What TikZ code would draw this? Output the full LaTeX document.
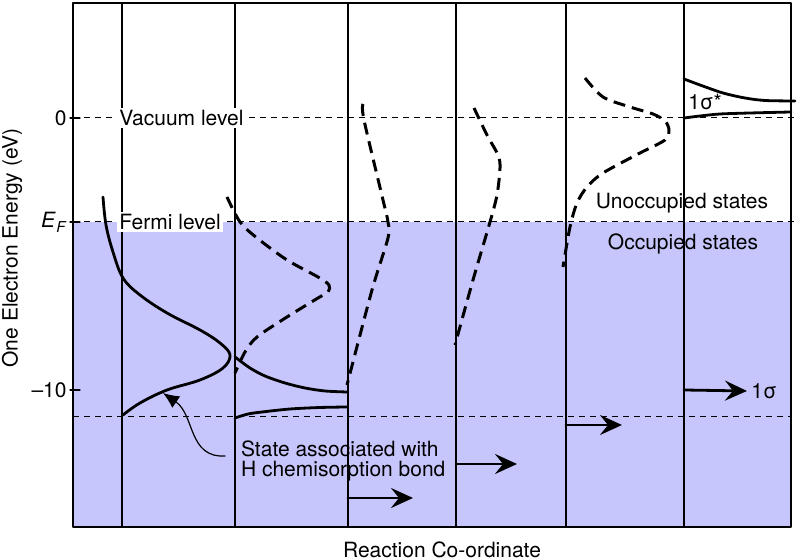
\documentclass[tikz,border=0pt]{standalone}
\usepackage{fontspec}
\setmainfont{TeX Gyre Heros}
\usetikzlibrary{arrows.meta}
\definecolor{occupied}{RGB}{198,198,252}

\begin{document}
\begin{tikzpicture}[x=0.5pt,y=-0.5pt, font=\fontsize{10.5}{10}\selectfont, line join=round, line cap=round,
	levelline/.style={line width=0.5pt, line cap=butt, dash pattern=on 2.8pt off 2.7pt},
	levellabel/.style={fill=white, inner sep=1pt, anchor=west},
	dos/.style={line width=1.4pt},
	dosdash/.style={line width=1.5pt, line cap=butt, dash pattern=on 6pt off 3.5pt},
	shiftarrow/.style={-{Stealth[length=11pt,width=10pt,inset=4pt]}, line width=1.4pt}]
	\def\xl{73} \def\xr{791} \def\yt{3} \def\yb{527}
	\def\yvac{118} \def\yfermi{222} \def\ylow{417} \def\yten{390}
	\useasboundingbox (0,0) rectangle (800,560);
	% occupied states below the Fermi level
	\fill[occupied] (\xl,\yfermi) rectangle (\xr,\yb);
	\foreach \x in {122,235,348,456,566,684}
	{\draw[line width=0.7pt] (\x,\yt)--(\x,\yb);}
	\draw[line width=0.7pt] (\xl,\yt) rectangle (\xr,\yb);
	\draw[levelline] (\xl,\yvac)--(795,\yvac) (\xl,\yfermi)--(795,\yfermi) (\xl,\ylow)--(\xr,\ylow);
	\foreach \y in {\yvac,\yfermi,\yten}
	{\draw[line width=0.6pt] (70,\y)--(80,\y);}
	% axis labels
	\node[anchor=east, inner sep=1pt] (zero) at (69,\yvac) {0};
	\node[anchor=east, inner sep=1pt] (ef) at (69,\yfermi) {\textit{E}\kern.3pt\raisebox{-.45ex}{\fontsize{7.5}{8}\selectfont\textit{F}}};
	\node[anchor=east, inner sep=1pt] (mten) at (69,\yten) {--10};
	\node[rotate=90] (ytitle) at (12,248) {One Electron Energy (eV)};
	\node (xtitle) at (442,550) {Reaction Co-ordinate};
	\node[levellabel] (vac) at (117,\yvac) {Vacuum level};
	\node[levellabel] (fermi) at (117,\yfermi) {Fermi level};
	\node (unocc) at (682,203) {Unoccupied states};
	\node (occ) at (683,244) {Occupied states};
	\node (sigstar) at (705,102) {1σ*};
	\node[anchor=west, inner sep=2pt] (sigma) at (747,391) {1σ};
	\node[anchor=west, align=left] (hstate) at (234,461) {State associated with\\H chemisorption bond};
	% densities of states along the reaction co-ordinate
	\draw[dos] plot[smooth, tension=0.6] coordinates {(103,197) (106,225) (113,252) (123,278) (140,295) (167,313) (200,330) (220,343) (230,355) (223,368) (200,380) (167,390) (140,403) (123,415)};
	\draw[dos] plot[smooth] coordinates {(235,357) (250,368) (265,376) (285,383) (305,388) (325,391) (347,392)};
	\draw[dos] plot[smooth] coordinates {(235,418) (248,414) (262,412) (290,409) (320,407.5) (347,407)};
	\draw[dosdash] plot[smooth, tension=0.5] coordinates {(227,197) (240,222) (257,238) (287,260) (318,277) (329,285) (328,292) (318,298) (287,317) (257,337) (245,352) (235,373)};
	\draw[dosdash] plot[smooth, tension=0.5] coordinates {(363,104) (364,120) (383,200) (388,222) (388,238) (372,290) (347,385)};
	\draw[dosdash] plot[smooth, tension=0.5] coordinates {(474,108) (487,135) (498,155) (500,168) (497,195) (490,222) (473,280) (455,345)};
	\draw[dosdash] plot[smooth, tension=0.5] coordinates {(585,78) (603,97) (630,107) (653,114) (665,121) (669,130) (665,140) (640,153) (603,173) (587,187) (577,203) (570,227) (563,267)};
	\draw[dos] plot[smooth] coordinates {(684,79) (700,85) (723,93) (745,98) (765,100.5) (795,101)};
	\draw[dos] plot[smooth] coordinates {(684,118) (700,116) (720,114) (750,113) (791,112)};
	% level shifts
	\foreach \x/\y/\e in {348/498/413, 456/464/517, 566/425/622}
	{\draw[shiftarrow] (\x,\y)--(\e,\y);}
	\draw[shiftarrow] (684,\yten)--(sigma.west);
	\coordinate (tail) at (225,456);
	\coordinate (hbond) at (163,393);
	\draw[-{Latex[length=8pt,width=7pt]}, line width=0.6pt] (tail) .. controls (188,458) and (195,415) .. (hbond);
\end{tikzpicture}
\end{document}
